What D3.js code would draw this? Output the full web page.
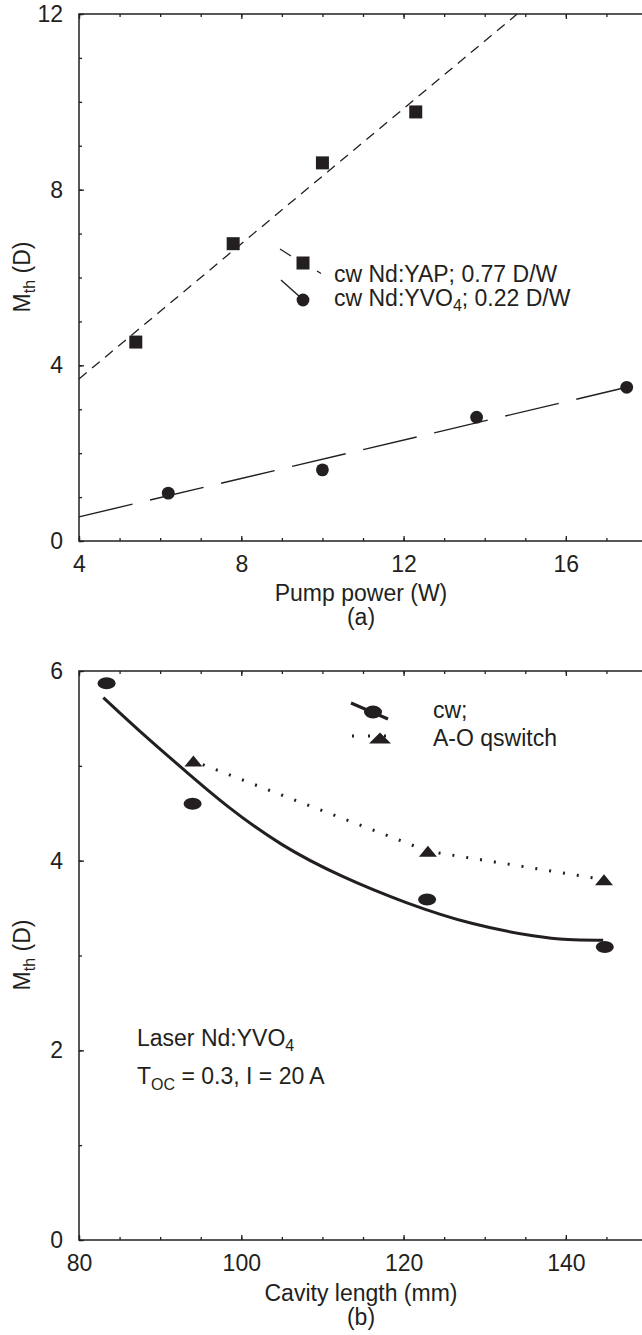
<!DOCTYPE html>
<html>
<head>
<meta charset="utf-8">
<script src="https://cdn.jsdelivr.net/npm/d3@7"></script>
<style>
body { margin: 0; background: #fff; }
text { font-family: "Liberation Sans", Arial, Helvetica, sans-serif; fill: #231f20; font-size: 23px; }
</style>
</head>
<body>
<svg id="chart" width="642" height="1335"></svg>
<script>
// ---- panel (a): threshold vs pump power
var yapPower = [5.4, 7.8, 10.0, 12.3];
var yapMth   = [4.53, 6.77, 8.61, 9.77];
var yvoPower = [6.2, 10.0, 13.8, 17.5];
var yvoMth   = [1.09, 1.62, 2.82, 3.5];
var yapFitX = [4, 14.8],  yapFitY = [3.69, 12];
var yvoFitX = [4, 17.5],  yvoFitY = [0.55, 3.5];
var xTicksA = [4, 8, 12, 16];
var yTicksA = [0, 4, 8, 12];

// ---- panel (b): threshold vs cavity length
var cwLength = [83.4, 94.0, 122.9, 144.8];
var cwMth    = [5.87, 4.6, 3.59, 3.09];
var qsLength = [94.1, 123.0, 144.7];
var qsMth    = [5.05, 4.1, 3.8];
var cwFitX = [83, 87, 92.9, 98.2, 105, 112.3, 120.3, 128.5, 136.8, 140, 144.6];
var cwFitY = [5.72, 5.40, 4.96, 4.57, 4.15, 3.83, 3.55, 3.32, 3.19, 3.165, 3.16];
var xTicksB = [80, 100, 120, 140];
var yTicksB = [0, 2, 4, 6];

var ink = '#231f20';
var svg = d3.select('#chart');
var fmt = d3.format('d');

function drawAxes(x, y, xMajor, xMinor, yMajor, yMinor) {
    var x0 = x.range()[0], x1 = x.range()[1],
        y0 = y.range()[0], y1 = y.range()[1];
    var parts = [
        [d3.axisBottom(x).tickValues(xMinor).tickSize(-3).tickFormat(''), 0, y0],
        [d3.axisBottom(x).tickValues(xMajor).tickSize(-5).tickPadding(15).tickFormat(fmt), 0, y0],
        [d3.axisTop(x).tickValues(xMinor).tickSize(-3).tickFormat(''), 0, y1],
        [d3.axisTop(x).tickValues(xMajor).tickSize(-5).tickFormat(''), 0, y1],
        [d3.axisLeft(y).tickValues(yMinor).tickSize(-3).tickFormat(''), x0, 0],
        [d3.axisLeft(y).tickValues(yMajor).tickSize(-5).tickPadding(16).tickFormat(fmt), x0, 0],
        [d3.axisRight(y).tickValues(yMinor).tickSize(-3).tickFormat(''), x1, 0],
        [d3.axisRight(y).tickValues(yMajor).tickSize(-5).tickFormat(''), x1, 0]
    ];
    parts.forEach(function(p) {
        var g = svg.append('g')
            .attr('transform', 'translate(' + [p[1], p[2]] + ')')
            .call(p[0]);
        g.select('.domain').remove();
        g.selectAll('line').attr('stroke', ink).attr('stroke-width', 1.3);
    });
    svg.append('rect')
        .attr('x', x0).attr('y', y1)
        .attr('width', x1 - x0).attr('height', y0 - y1)
        .attr('fill', 'none').attr('stroke', ink).attr('stroke-width', 1.5);
}

function yTitle(cy) {
    var t = svg.append('text')
        .attr('transform', 'translate(30,' + cy + ') rotate(-90)')
        .attr('text-anchor', 'middle');
    t.append('tspan').text('M');
    t.append('tspan').attr('font-size', 16).attr('dy', 5).text('th');
    t.append('tspan').attr('dy', -5).text(' (D)');
}

function xTitle(cx, y, label, tag) {
    svg.append('text').attr('x', cx).attr('y', y).attr('text-anchor', 'middle').text(label);
    svg.append('text').attr('x', cx).attr('y', y + 24).attr('text-anchor', 'middle').text(tag);
}

function pairs(xs, ys) {
    return xs.map(function(v, i) { return [v, ys[i]]; });
}

// ================= panel (a)
var xA = d3.scaleLinear().domain([4, 18]).range([79, 647]);
var yA = d3.scaleLinear().domain([0, 12]).range([541, 14]);

drawAxes(xA, yA, xTicksA, d3.range(4, 18.01, 1), yTicksA, d3.range(0, 12.01, 1));

var lineA = d3.line().x(function(d) { return xA(d[0]); }).y(function(d) { return yA(d[1]); });

svg.append('path')
    .attr('d', lineA(pairs(yapFitX, yapFitY)))
    .attr('fill', 'none').attr('stroke', ink).attr('stroke-width', 1.3)
    .attr('stroke-dasharray', '10,7');

svg.append('path')
    .attr('d', lineA(pairs(yvoFitX, yvoFitY)))
    .attr('fill', 'none').attr('stroke', ink).attr('stroke-width', 1.4)
    .attr('stroke-dasharray', '55,18');

svg.selectAll('rect.yap')
    .data(pairs(yapPower, yapMth))
    .enter().append('rect')
    .attr('class', 'yap')
    .attr('x', function(d) { return xA(d[0]) - 6.5; })
    .attr('y', function(d) { return yA(d[1]) - 6.5; })
    .attr('width', 13).attr('height', 13)
    .attr('fill', ink);

svg.selectAll('circle.yvo')
    .data(pairs(yvoPower, yvoMth))
    .enter().append('circle')
    .attr('class', 'yvo')
    .attr('cx', function(d) { return xA(d[0]); })
    .attr('cy', function(d) { return yA(d[1]); })
    .attr('r', 6.4)
    .attr('fill', ink);

// legend (a)
svg.append('line').attr('x1', 280).attr('y1', 249).attr('x2', 291).attr('y2', 256)
    .attr('stroke', ink).attr('stroke-width', 1.3);
svg.append('line').attr('x1', 317).attr('y1', 271).attr('x2', 321).attr('y2', 273.5)
    .attr('stroke', ink).attr('stroke-width', 1.3);
svg.append('rect').attr('x', 296.5).attr('y', 256.5).attr('width', 13).attr('height', 13).attr('fill', ink);
svg.append('line').attr('x1', 281).attr('y1', 280).attr('x2', 300).attr('y2', 297)
    .attr('stroke', ink).attr('stroke-width', 1.4);
svg.append('circle').attr('cx', 303).attr('cy', 300).attr('r', 6.4).attr('fill', ink);
svg.append('text').attr('x', 334).attr('y', 282).text('cw Nd:YAP; 0.77 D/W');
var l2 = svg.append('text').attr('x', 334).attr('y', 306);
l2.append('tspan').text('cw Nd:YVO');
l2.append('tspan').attr('font-size', 16).attr('dy', 5).text('4');
l2.append('tspan').attr('dy', -5).text('; 0.22 D/W');

yTitle(277);
xTitle(361, 601, 'Pump power (W)', '(a)');

// ================= panel (b)
var xB = d3.scaleLinear().domain([80, 150]).range([79, 647]);
var yB = d3.scaleLinear().domain([0, 6]).range([1240, 671]);

drawAxes(xB, yB, xTicksB, d3.range(80, 150.01, 5), yTicksB, d3.range(0, 6.01, 1));

var lineB = d3.line().x(function(d) { return xB(d[0]); }).y(function(d) { return yB(d[1]); });

svg.append('path')
    .attr('d', lineB.curve(d3.curveBasis)(pairs(cwFitX, cwFitY)))
    .attr('fill', 'none').attr('stroke', ink).attr('stroke-width', 3);

lineB.curve(d3.curveLinear);
svg.append('path')
    .attr('d', lineB(pairs(qsLength, qsMth)))
    .attr('fill', 'none').attr('stroke', ink).attr('stroke-width', 3)
    .attr('stroke-dasharray', '2,12').attr('stroke-dashoffset', -10);

svg.selectAll('ellipse.cw')
    .data(pairs(cwLength, cwMth))
    .enter().append('ellipse')
    .attr('class', 'cw')
    .attr('cx', function(d) { return xB(d[0]); })
    .attr('cy', function(d) { return yB(d[1]); })
    .attr('rx', 9).attr('ry', 6)
    .attr('fill', ink);

svg.selectAll('path.qs')
    .data(pairs(qsLength, qsMth))
    .enter().append('path')
    .attr('class', 'qs')
    .attr('d', 'M-9,5.5L9,5.5L0,-5.5Z')
    .attr('transform', function(d) { return 'translate(' + [xB(d[0]), yB(d[1])] + ')'; })
    .attr('fill', ink);

// legend (b)
svg.append('line').attr('x1', 351).attr('y1', 703).attr('x2', 388).attr('y2', 719)
    .attr('stroke', ink).attr('stroke-width', 3);
svg.append('ellipse').attr('cx', 373).attr('cy', 712).attr('rx', 9).attr('ry', 6.5).attr('fill', ink);
svg.append('line').attr('x1', 352).attr('y1', 736).attr('x2', 400).attr('y2', 736)
    .attr('stroke', ink).attr('stroke-width', 3).attr('stroke-dasharray', '2,14');
svg.append('path').attr('d', 'M-11,5.5L11,5.5L0,-5.5Z')
    .attr('transform', 'translate(380,738)').attr('fill', ink);
svg.append('text').attr('x', 433).attr('y', 718).text('cw;');
svg.append('text').attr('x', 433).attr('y', 746).text('A-O qswitch');

// annotation
var a1 = svg.append('text').attr('x', 137).attr('y', 1046);
a1.append('tspan').text('Laser Nd:YVO');
a1.append('tspan').attr('font-size', 16).attr('dy', 5).text('4');
var a2 = svg.append('text').attr('x', 137).attr('y', 1084);
a2.append('tspan').text('T');
a2.append('tspan').attr('font-size', 16).attr('dy', 6).text('OC');
a2.append('tspan').attr('dy', -6).text(' = 0.3, I = 20 A');

yTitle(955);
xTitle(361, 1301, 'Cavity length (mm)', '(b)');
</script>
</body>
</html>
